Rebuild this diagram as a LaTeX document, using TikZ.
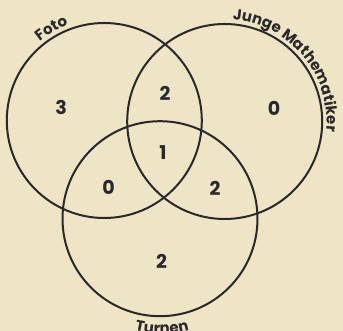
\documentclass[tikz,border=0pt]{standalone}
\usepackage{fontspec}
\setmainfont{Poppins}
\usetikzlibrary{decorations.text}
\definecolor{paper}{RGB}{238,228,198}
\definecolor{ink}{RGB}{42,40,40}
\newcommand{\labfont}{\fontsize{15}{17}\selectfont\bfseries}
\tikzset{
  ring/.style={draw=ink, line width=2pt},
  num/.style={text=ink, font=\fontsize{19}{21}\selectfont\bfseries, inner sep=0pt},
}
\begin{document}
\begin{tikzpicture}[x=1pt,y=1pt]
\fill[paper] (0,0) rectangle (343,331);
\useasboundingbox (0,0) rectangle (343,331);
\coordinate (cF) at (104.3,210.5);
\coordinate (cJ) at (224.7,209.5);
\coordinate (cT) at (160,112.3);
\draw[ring] (cF) circle[radius=97.5];
\draw[ring] (cJ) circle[radius=97.5];
\draw[ring] (cT) circle[radius=97.5];
% labels
\path[decorate, decoration={text along path, text align=center, text color=ink, text={|\labfont|Foto}}]
  (cF) ++(150:102) arc[start angle=150, end angle=90, radius=102];
\path[decorate, decoration={text along path, text align=center, text color=ink, text={|\labfont|Junge Mathematiker}}]
  (cJ) ++(130:102) arc[start angle=130, end angle=-50, radius=102];
\path[decorate, decoration={text along path, text align=center, text color=ink, text={|\labfont|Turnen}}]
  (cT) ++(240:115) arc[start angle=240, end angle=302, radius=115];
% numbers
\node[num] (n3) at (61,224) {3};
\node[num] (nFJ) at (165,238) {2};
\node[num] (nJ) at (274,223) {0};
\node[num] (nA) at (163,178) {1};
\node[num] (nFT) at (108.5,144) {0};
\node[num] (nJT) at (215,142.5) {2};
\node[num] (nT) at (161.5,70) {2};
\end{tikzpicture}
\end{document}
